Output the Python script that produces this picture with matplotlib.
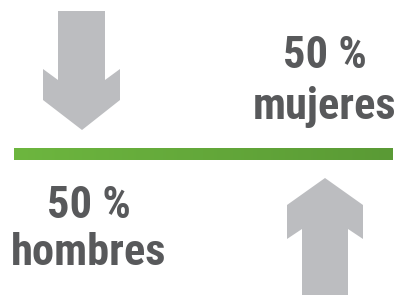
import matplotlib
matplotlib.use("Agg")
import matplotlib.pyplot as plt
from matplotlib.patches import Polygon
from matplotlib.colors import LinearSegmentedColormap
import numpy as np

percents = [50, 50]
groups = ["mujeres", "hombres"]

W, H = 397, 295
fig = plt.figure(figsize=(W / 100, H / 100), dpi=100)
ax = fig.add_axes([0, 0, 1, 1])
ax.set_xlim(0, W)
ax.set_ylim(H, 0)
ax.axis("off")

fam = ["Roboto Condensed", "DejaVu Sans"]
grey_arrow = "#bcbdc0"
text_col = "#58595b"

# down arrow (left)
down = [(58, 11), (105, 11), (105, 80), (120, 69), (120, 100), (82, 130),
        (43, 100), (43, 69), (58, 80)]
ax.add_patch(Polygon(down, closed=True, fc=grey_arrow, ec="none"))
# up arrow (right)
up = [(302, 296), (348, 296), (348, 229), (363, 239), (363, 205), (325, 178),
      (287, 205), (287, 239), (302, 229)]
ax.add_patch(Polygon(up, closed=True, fc=grey_arrow, ec="none"))

# green gradient bar
grad = np.linspace(0, 1, 256).reshape(1, -1)
cmap = LinearSegmentedColormap.from_list("g", ["#6db63f", "#5a9a35"])
ax.imshow(grad, extent=(14, 393, 160, 148), cmap=cmap, aspect="auto", zorder=2)

fs = 32
kw = dict(ha="center", va="baseline", fontsize=fs, fontweight="bold",
          color=text_col, family=fam)
ax.text(325, 68, f"{percents[0]} %", **kw)
ax.text(325, 119, groups[0], **kw)
ax.text(89, 218, f"{percents[1]} %", **kw)
ax.text(89, 265, groups[1], **kw)

ax.set_xlim(0, W)
ax.set_ylim(H, 0)
fig.savefig("out.png", dpi=100)
